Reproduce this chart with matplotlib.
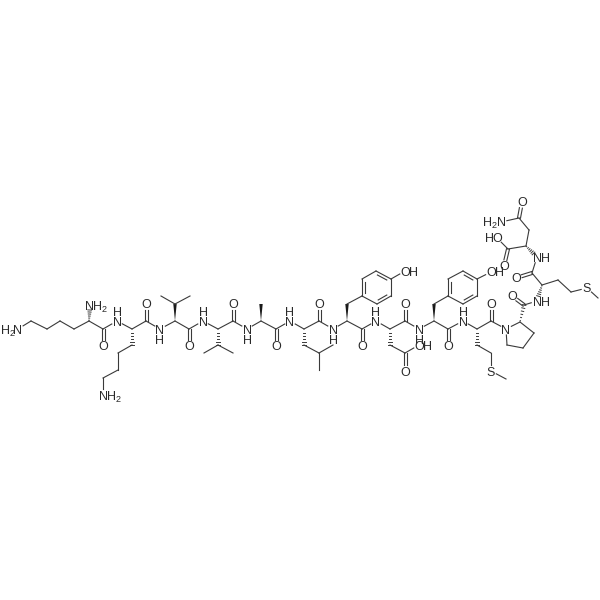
import matplotlib
matplotlib.use("Agg")
import matplotlib.pyplot as plt
import numpy as np

plt.rcParams["font.family"] = ["Liberation Sans", "DejaVu Sans"]

# atom positions, one row per residue
atom_ids = """
n1 c1a c1b c1c c1d ca1 n1a c1 o1
n2 ca2 s2a s2b s2c s2d n2b c2 o2
n3 ca3 s3a s3b s3c c3 o3
n4 ca4 s4a s4b s4c c4 o4
n5 ca5 s5a c5 o5
n6 ca6 s6a s6b s6c s6d c6 o6
n7 ca7 s7a r7a r7b r7c r7d r7e r7f oh7 c7 o7
n8 ca8 s8a s8b o8a o8b c8 o8
n9 ca9 s9a r9a r9b r9c r9d r9e r9f oh9 c9 o9
n10 ca10 s10a s10b s10s s10m c10 o10
n11 ca11 p11b p11c p11d c11 o11
n12 ca12 s12a s12b s12s s12m c12 o12
n13 ca13 c13 o13a o13b s13a s13b o13c n13b
""".split()
atom_x = [
    18, 31, 47, 60, 74, 89, 90, 103, 103,
    117, 132, 132, 118, 118, 103, 103, 146, 146,
    160, 175, 175, 161, 190, 189, 189,
    203, 218, 218, 204, 233, 233, 233,
    247, 261, 261, 276, 276,
    290, 304, 304, 319, 333, 319, 319, 319,
    333, 347, 347, 362, 362, 376, 391, 391, 377, 405, 362, 362,
    376, 390, 390, 405, 419, 405, 405, 405,
    419, 434, 434, 448, 448, 463, 477, 477, 463, 491, 448, 448,
    463, 477, 477, 491, 491, 506, 491, 491,
    506, 520, 534, 523, 507, 524, 512,
    537, 542, 558, 571, 587, 598, 532, 516,
    537, 526, 508, 497, 504, 529, 519, 522, 501,
]
atom_y = [
    329, 321, 329, 321, 329, 321, 305, 329, 346,
    321, 329, 345, 353, 370, 378, 395, 321, 304,
    329, 321, 304, 296, 296, 329, 346,
    321, 329, 345, 353, 353, 321, 304,
    329, 321, 304, 329, 346,
    321, 329, 345, 353, 345, 370, 321, 304,
    329, 321, 304, 296, 279, 271, 279, 296, 304, 271, 329, 346,
    321, 329, 345, 353, 345, 371, 321, 304,
    329, 321, 304, 296, 279, 271, 279, 296, 304, 272, 329, 346,
    321, 329, 345, 353, 371, 379, 321, 304,
    329, 322, 333, 348, 345, 305, 296,
    301, 285, 280, 292, 288, 298, 273, 278,
    257, 246, 249, 238, 266, 230, 218, 202, 222,
]

single_bonds = """
n1-c1a c1a-c1b c1b-c1c c1c-c1d c1d-ca1 ca1-c1 c1-n2 n2-ca2
s2a-s2b s2b-s2c s2c-s2d s2d-n2b ca2-c2 c2-n3 n3-ca3
s3a-s3b s3a-s3c ca3-c3 c3-n4 n4-ca4 s4a-s4b s4a-s4c ca4-c4 c4-n5 n5-ca5
ca5-c5 c5-n6 n6-ca6 s6a-s6b s6b-s6c s6b-s6d ca6-c6 c6-n7 n7-ca7
s7a-r7a r7a-r7f r7b-r7c r7d-r7e r7d-oh7 ca7-c7 c7-n8 n8-ca8
s8a-s8b s8b-o8a ca8-c8 c8-n9 n9-ca9
s9a-r9a r9a-r9f r9b-r9c r9d-r9e r9d-oh9 ca9-c9 c9-n10 n10-ca10
s10a-s10b s10b-s10s s10s-s10m ca10-c10 c10-n11
n11-ca11 ca11-p11b p11b-p11c p11c-p11d p11d-n11 c11-n12
ca12-s12a s12a-s12b s12b-s12s s12s-s12m ca12-c12 c12-n13
ca13-c13 c13-o13a ca13-s13a s13a-s13b s13b-n13b
""".split()
double_bonds = """
c1-o1 c2-o2 c3-o3 c4-o4 c5-o5 c6-o6 c7-o7 s8b-o8b c8-o8 c9-o9
c10-o10 c11-o11 c12-o12 c13-o13b s13b-o13c
""".split()
ring7_double = "r7a-r7b r7c-r7d r7e-r7f".split()
ring9_double = "r9a-r9b r9c-r9d r9e-r9f".split()
wedge_bonds = "ca3-s3a ca5-s5a ca7-s7a ca9-s9a".split()
hash_bonds = """
ca1-n1a ca2-s2a ca4-s4a ca6-s6a ca8-s8a ca10-s10a ca11-c11 ca12-n12 ca13-n13
""".split()

labelled = """
n1 n1a o1 n2 n2b o2 n3 o3 n4 o4 n5 o5 n6 o6 n7 o7 oh7 n8 o8a o8b o8 n9 oh9 o9
n10 s10s o10 n11 o11 n12 s12s o12 n13 o13a o13b o13c n13b
""".split()
heavy_text = """
N N O N N O N O N O N O N O N O O N O O O N O O
N S O N O N S O N O O O N
""".split()

h_text = ["H"] * 19
h_x = [6, 98, 117, 112, 160, 203, 247, 289, 333, 414, 376, 428, 419, 500, 463, 546, 546, 489, 488]
h_y = [329, 305, 311, 395, 339, 311, 339, 311, 339, 271, 311, 345, 339, 272, 311, 301, 257, 238, 222]
sub_x = [12, 104, 118, 494]
sub_y = [332, 308, 398, 225]

LINE = "#3a3a3a"
TEXT = "#2a2a2a"
pos = dict(zip(atom_ids, zip(atom_x, atom_y)))


def ends(pair, trim=6):
    a, b = pair.split("-")
    p, q = np.array(pos[a], float), np.array(pos[b], float)
    u = (q - p) / np.hypot(*(q - p))
    start = p + u * trim if a in labelled else p
    stop = q - u * trim if b in labelled else q
    return start, stop, u


fig = plt.figure(figsize=(6, 6), dpi=100)
ax = fig.add_axes([0, 0, 1, 1])
ax.set_xlim(0, 600)
ax.set_ylim(600, 0)
ax.axis("off")

for pair in single_bonds:
    p, q, u = ends(pair)
    ax.plot([p[0], q[0]], [p[1], q[1]], color=LINE, lw=0.8)

for pair in double_bonds:
    p, q, u = ends(pair)
    n = np.array([-u[1], u[0]]) * 1.5
    for side in (-1, 1):
        ax.plot([p[0] + side * n[0], q[0] + side * n[0]],
                [p[1] + side * n[1], q[1] + side * n[1]], color=LINE, lw=0.8)

for pairs, center in ((ring7_double, "r7"), (ring9_double, "r9")):
    ring = [pos[center + k] for k in "abcdef"]
    mid = np.mean(ring, axis=0)
    for pair in pairs:
        p, q, u = ends(pair)
        ax.plot([p[0], q[0]], [p[1], q[1]], color=LINE, lw=0.8)
        # inner stroke of the aromatic ring
        p2 = p + (mid - p) * 0.2 + u * 1.5
        q2 = q + (mid - q) * 0.2 - u * 1.5
        ax.plot([p2[0], q2[0]], [p2[1], q2[1]], color=LINE, lw=0.8)

for pair in wedge_bonds:
    p, q, u = ends(pair)
    n = np.array([-u[1], u[0]]) * 1.7
    ax.fill([p[0], q[0] + n[0], q[0] - n[0]], [p[1], q[1] + n[1], q[1] - n[1]],
            color="#1a1a1a", lw=0)

for pair in hash_bonds:
    p, q, u = ends(pair, trim=5)
    n = np.array([-u[1], u[0]])
    for t in np.linspace(0.08, 1, 6):
        c = p + (q - p) * t
        w = 1.9 * t
        ax.plot([c[0] - n[0] * w, c[0] + n[0] * w], [c[1] - n[1] * w, c[1] + n[1] * w],
                color=LINE, lw=0.7)

for atom, txt in zip(labelled, heavy_text):
    ax.text(pos[atom][0], pos[atom][1], txt, fontsize=9, color=TEXT,
            ha="center", va="center_baseline")
for txt, x, y in zip(h_text, h_x, h_y):
    ax.text(x, y, txt, fontsize=9, color=TEXT, ha="center", va="center_baseline")
for x, y in zip(sub_x, sub_y):
    ax.text(x, y, "2", fontsize=6.5, color=TEXT, ha="center", va="center_baseline")

fig.savefig("out.png", dpi=100, facecolor="white")
